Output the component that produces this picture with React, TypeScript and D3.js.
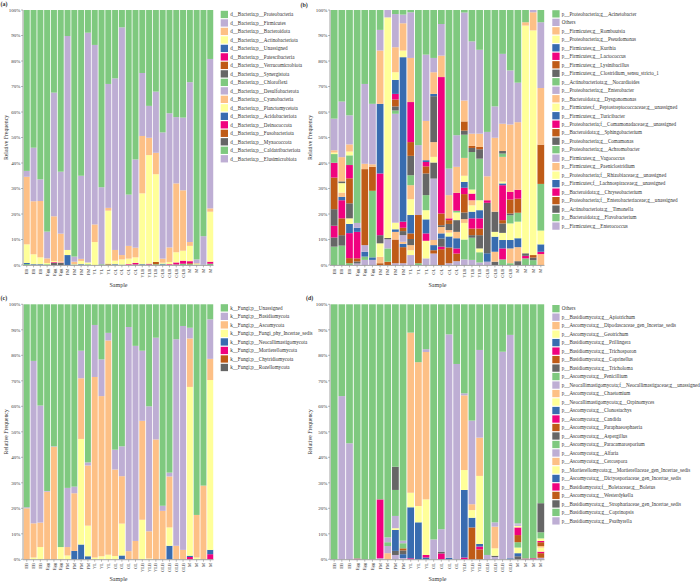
import React from "react";
import * as d3 from "d3";

const samples = ["EB","EB","EB","Egg","Egg","Egg","FM","FM","FM","FM","YL","YL","YL","OL","OL","OL","OL","YLB","YLB","YLB","OLB","OLB","OLB","OLB","M","M","M","M"];

// ---------- Panel (a) : bacterial phyla ----------
const aNames = ["d__Bacteria;p__Proteobacteria","d__Bacteria;p__Firmicutes","d__Bacteria;p__Bacteroidota","d__Bacteria;p__Actinobacteriota","d__Bacteria;p__Unassigned","d__Bacteria;p__Patescibacteria","d__Bacteria;p__Verrucomicrobiota","d__Bacteria;p__Synergistota","d__Bacteria;p__Chloroflexi","d__Bacteria;p__Desulfobacterota","d__Bacteria;p__Cyanobacteria","d__Bacteria;p__Planctomycetota","d__Bacteria;p__Acidobacteriota","d__Bacteria;p__Deinococcota","d__Bacteria;p__Fusobacteriota","d__Bacteria;p__Myxococcota","d__Bacteria;p__Caldatribacteriota","d__Bacteria;p__Elusimicrobiota"];
const aProteobacteria = [63.1,54,66.4,86.9,32.4,63.4,10.2, 96.7,65,8.9,13.7,69.5,29,26.8, 6.8,72.4,58.6,24.7,37.6,32,48, 40.5,42,42.2,28.3,97.8,88.7,19.2];
const aFirmicutes = [2.3,21,8.5,10.5,48.5,24.3,83.9, 2.0,32.6,90.1,70.4,30.2,48.6,67.3, 89.3,20.1,34.6,24.7,12.5,24,49.5, 52.6,26,28.5,62.7,1.5,11.2,58.6];
const aBacteroidota = [26.5,20.8,22.1,1.8,17.5,11.0,0, 1.0,0.8,0,6.9,0,1.1,4.2, 1.7,5.0,3.8,22.5,6.8,8.4,1.6, 5.7,27,23.7,1.5,0.3,0,1.3];
const aActinobacteriota = [7.3,3.9,2.7,0.5,0.5,0.3,2.0, 0.1,1.3,0.7,9.0,0,20.8,1.4, 2.0,2.2,2.2,27.8,42.6,34.4,0.4, 0.9,4,3.9,6,0.2,0,19.6];
const aUnassigned = [0.4,0.3,0.3,0,0,0,3.9, 0,0.3,0,0,0,0,0.3, 0,0,0,0.3,0,0,0.3, 0,0,0,0,0,0,0];
const aPatescibacteria = [0,0,0,0,0.3,0.2,0, 0,0,0,0,0,0,0, 0,0.3,0.6,0,0.3,0,0, 0.3,0.8,1.2,0.8,0,0,0.8];
const aVerrucomicrobiota = [0,0,0,0,0,0,0, 0,0,0,0,0,0.3,0, 0,0,0,0,0,0.9,0, 0,0,0,0.4,0,0,0];
const aSynergistota = [0,0,0,0,0.8,0.8,0, 0,0,0,0,0,0,0, 0,0,0,0,0,0,0, 0,0,0,0,0,0,0];
const aChloroflexi = [0.4,0,0,0.3,0,0,0, 0.2,0,0.3,0,0.3,0.2,0, 0.2,0,0.2,0,0.2,0.3,0.2, 0,0.2,0.5,0.3,0.2,0.1,0.5];
const aDesulfobacterota = [0,0,0,0,0,0,0, 0,0,0,0,0,0,0, 0,0,0,0,0,0,0, 0,0,0,0,0,0,0];
const aCyanobacteria = [0,0,0,0,0,0,0, 0,0,0,0,0,0,0, 0,0,0,0,0,0,0, 0,0,0,0,0,0,0];
const aPlanctomycetota = [0,0,0,0,0,0,0, 0,0,0,0,0,0,0, 0,0,0,0,0,0,0, 0,0,0,0,0,0,0];
const aAcidobacteriota = [0,0,0,0,0,0,0, 0,0,0,0,0,0,0, 0,0,0,0,0,0,0, 0,0,0,0,0,0,0];
const aDeinococcota = [0,0,0,0,0,0,0, 0,0,0,0,0,0,0, 0,0,0,0,0,0,0, 0,0,0,0,0,0,0];
const aFusobacteriota = [0,0,0,0,0,0,0, 0,0,0,0,0,0,0, 0,0,0,0,0,0,0, 0,0,0,0,0,0,0];
const aMyxococcota = [0,0,0,0,0,0,0, 0,0,0,0,0,0,0, 0,0,0,0,0,0,0, 0,0,0,0,0,0,0];
const aCaldatribacteriota = [0,0,0,0,0,0,0, 0,0,0,0,0,0,0, 0,0,0,0,0,0,0, 0,0,0,0,0,0,0];
const aElusimicrobiota = [0,0,0,0,0,0,0, 0,0,0,0,0,0,0, 0,0,0,0,0,0,0, 0,0,0,0,0,0,0];

// ---------- Panel (b) : bacterial genera ----------
const bNames = ["p__Proteobacteria;g__Acinetobacter","Others","p__Firmicutes;g__Romboutsia","p__Proteobacteria;g__Pseudomonas","p__Firmicutes;g__Kurthia","p__Firmicutes;g__Lactococcus","p__Firmicutes;g__Lysinibacillus","p__Firmicutes;g__Clostridium_sensu_stricto_1","p__Actinobacteriota;g__Nocardioides","p__Proteobacteria;g__Enterobacter","p__Bacteroidota;g__Dysgonomonas","p__Firmicutes;f__Peptostreptococcaceae;g__unassigned","p__Firmicutes;g__Turicibacter","p__Proteobacteria;f__Comamonadaceae;g__unassigned","p__Bacteroidota;g__Sphingobacterium","p__Proteobacteria;g__Comamonas","p__Proteobacteria;g__Achromobacter","p__Firmicutes;g__Vagococcus","p__Firmicutes;g__Paeniclostridium","p__Proteobacteria;f__Rhizobiaceae;g__unassigned","p__Firmicutes;f__Lachnospiraceae;g__unassigned","p__Bacteroidota;g__Chryseobacterium","p__Proteobacteria;f__Enterobacteriaceae;g__unassigned","p__Actinobacteriota;g__Timonella","p__Bacteroidota;g__Flavobacterium","p__Firmicutes;g__Enterococcus"];
const bAcinetobacter = [42.6,35.9,41.3,83.5,29,36.8,7.8, 0,1.6,1.8,0.9,53,17.5,18.8, 5.5,62.2,49.1,1,12.3,15.6,47.8, 37.8,17.2,23.7,28.5,4.8,0,4.8];
const bOthers = [12.4,21.8,11.4,1.9,31.3,23.7,8.1, 2.9,13,3.4,17.9,27.4,26,5.6, 12.4,10.4,12.4,34.5,36.2,32.9,17.4, 12.3,27.4,21.2,15.5,0,0.9,25.8];
const bRomboutsia = [0.9,9.5,2.8,0,2.1,1.0,20.9, 0,9.8,10.7,17.3,0,15.4,8.5, 8.4,9.1,10.2,8.2,4.8,5.2,9.4, 29.0,10.7,26.4,26.5,1.3,7.1,22.2];
const bPseudomonas = [0.6,0,1.5,0,0,0,0, 86.5,3.0,2.6,0,0,0,0, 0,0,0,0,0,0,0, 0,0,0,0,89.3,88.1,0];
const bKurthia = [0,0,0,0,0,0,27.3, 0,5.5,64.5,0,0,0.7,0.9, 0,0,0,0,0,0,0, 0,0,0,0,0,0,0];
const bLactococcus = [0,0,0,0,0,0,24.2, 0,2.2,0,15.7,0,1.7,0, 53.5,0.7,7.0,0,0,0,1.0, 0,0,3.0,3.5,0,0,0];
const bLysinibacillus = [0,0,0,0,29.8,0,0, 0,2.7,0,5.4,18.9,2.8,0, 4.6,1.5,0,3.6,0.8,0.9,0, 0,0,5.5,5.5,0,1.0,15.4];
const bClostridium = [0,0.7,0,0,0,0,3.2, 0.5,1.6,0,7.6,0,8.5,18, 0.7,2.4,0,1.6,1.6,3.7,19.8, 7.9,1.0,0.7,0,1.0,1.0,0];
const bNocardioides = [3.4,0,3.8,0,0,0,0, 0,1.3,0,3.9,0,5.9,0, 0,0,0.7,9.1,14.7,16.3,0, 0,1.3,3.2,3.5,0,0,18.3];
const bEnterobacter = [0,0,0,0,0,0,0, 3.6,42.7,0,0,0,0,0, 0,0,0,0,0,0,0, 0,0,0,0,0,0,0];
const bDysgonomonas = [0,0,0,0,0,0,0, 0,0,0,5.5,0,0,5.8, 2.5,1.0,0,7.0,0,0,0, 0,9.7,0,0,0,0,0];
const bPeptostreptococcaceae = [0,3.7,0,0,0,0,5.3, 0,2.6,0,6.2,0,3.6,2.2, 0,1.5,3.0,2.4,1.6,3.9,0, 1.9,0.7,6.5,6.5,0,0,5.4];
const bTuricibacter = [0,0,0,0,0,0,0, 0,1.0,0,7.2,0,5.5,0, 2.0,4.3,0,2.3,0,3.2,3.3, 5.9,0.7,3.3,3.5,0,0,2.9];
const bComamonadaceae = [5.8,0,5.2,0,0,0,0, 0,0,2.4,0,0,2.9,0, 0,0,0,2.5,2.6,4.0,0, 0,13.7,0,0,1.0,0,0.9];
const bSphingobacterium = [12.4,0,9.8,0,0,9.4,0, 0,0,1.3,2.2,0,0,0, 0,0,0,7.2,0,2.6,0, 0,1.3,0,0,0,0,0];
const bComamonas = [6.5,0,5.9,0,0,0,0, 0,0,1.6,2.4,0,0,6.3, 3.2,0,4.6,2.6,0,5.2,0, 0,3.7,0,0,0,0,0];
const bAchromobacter = [0,0,0,0,0,26.1,0, 5.2,0,0,0,0,0,0, 0,0,0,0,0,0,0, 0,0,0,0,0,0,0];
const bVagococcus = [0,0,0,0,2.6,0,0, 0,0,2.6,0,0,0,24.1, 0,0,0,0,0,0,0, 0,0,0,0,0,0,0];
const bPaeniclostridium = [0,1.7,0,0,0,0,2.5, 0,3.0,0.8,2.0,0,0,2.0, 0,0,2.5,1.5,2.0,0,0, 3.9,0,5.8,5.5,0,0,4.3];
const bRhizobiaceae = [0,0,2.2,0,0,0,0, 0,0,0,1.9,0,6.9,0, 0,0,0,6.5,2.5,1.5,0, 0,2.8,0,0,0,0,0];
const bLachnospiraceae = [0,1.3,3.6,1.6,1.9,1.0,0, 0,0,1.3,0,0,0,2.0, 0,0,4.0,0,2.6,0,0, 0,3.3,0,0,0,0,0];
const bChryseobacterium = [4.6,7.1,9.8,10.4,0,0,0, 0,0,0,0,0,0,0, 1.0,0,2.0,0,4.0,0,0, 0,4.3,0,0,0,0,0];
const bEnterobacteriaceae = [0,6.6,2.0,1.2,0,0,0.7, 1.3,9.3,6.3,0,0,0,1.3, 6.2,6.2,3.0,0,2.6,0,0, 0,0,0,0,0,0,0];
const bTimonella = [3.6,4.1,0,0.8,0,0,0, 0,0,0,0,0,0,0, 0,0,0,0,1.0,0,0, 1.3,0,0,1.5,0,0,0];
const bFlavobacterium = [7.2,7.6,0.7,0,1.3,0,0, 0,0,0,0,0.7,0,0, 0,0,0,7.8,8.7,4.0,0, 0,2.2,0.7,0,2.6,1.9,0];
const bEnterococcus = [0,0,0,0.6,2.0,2.0,0, 0,0.7,0.7,3.9,0,2.6,4.5, 0,0.7,1.5,2.2,2.0,1.0,1.3, 0,0,0,0,0,0,0];

// ---------- Panel (c) : fungal phyla ----------
const cNames = ["k__Fungi;p__Unassigned","k__Fungi;p__Basidiomycota","k__Fungi;p__Ascomycota","k__Fungi;p__Fungi_phy_Incertae_sedis","k__Fungi;p__Neocallimastigomycota","k__Fungi;p__Mortierellomycota","k__Fungi;p__Chytridiomycota","k__Fungi;p__Rozellomycota"];
const cUnassigned = [79.6,22.2,39.7,73.2,55.7,95.2,72, 71.5,18.2,62,8.1,21.6,11.2,57, 55.7,8.9,16.3,18.2,40,13.1,79, 66,13.7,8.5,9.2,82.6,71.1,5.9];
const cBasidiomycota = [0.4,63.7,45.9,0.3,0.2,0,23.2, 2.6,10.8,1.2,20.4,14.4,3,7.8, 11.7,87.9,76.5,27.5,49,39.9,2, 1.5,81,87.8,4.2,0,0,15.5];
const cAscomycota = [20.0,13.4,9.6,26.5,44.1,0,3.3, 22.6,23.8,23.6,70.8,62.8,84,33.9, 18.6,3.2,7.2,38.8,10.7,47,19, 20,5.3,3.7,19,16.7,28.9,8.3];
const cIncertaeSedis = [0,0.7,4.8,0,0,4.8,1.5, 0,41.4,12,0.7,1.2,1.8,1.3, 12.5,0,0,15.5,0.3,0,0, 7.2,0,0,66.2,0.7,0,66.6];
const cNeocallimastigomycota = [0,0,0,0,0,0,0, 3.3,5.8,1.2,0,0,0,0, 1.5,0,0,0,0,0,0, 5.3,0,0,0.5,0,0,1.7];
const cMortierellomycota = [0,0,0,0,0,0,0, 0,0,0,0,0,0,0, 0,0,0,0,0,0,0, 0,0,0,0.9,0,0,2.0];
const cChytridiomycota = [0,0,0,0,0,0,0, 0,0,0,0,0,0,0, 0,0,0,0,0,0,0, 0,0,0,0,0,0,0];
const cRozellomycota = [0,0,0,0,0,0,0, 0,0,0,0,0,0,0, 0,0,0,0,0,0,0, 0,0,0,0,0,0,0];

// ---------- Panel (d) : fungal genera ----------
const dNames = ["Others","p__Basidiomycota;g__Apiotrichum","p__Ascomycota;g__Dipodascaceae_gen_Incertae_sedis","p__Ascomycota;g__Geotrichum","p__Basidiomycota;g__Prillingera","p__Basidiomycota;g__Trichosporon","p__Basidiomycota;g__Coprinellus","p__Basidiomycota;g__Tricholoma","p__Ascomycota;g__Penicillium","p__Neocallimastigomycota;f__Neocallimastigaceae;g__unassigned","p__Ascomycota;g__Chaetomium","p__Neocallimastigomycota;g__Orpinomyces","p__Ascomycota;g__Clonostachys","p__Ascomycota;g__Candida","p__Ascomycota;g__Paraphaeosphaeria","p__Ascomycota;g__Aspergillus","p__Ascomycota;g__Paracamarosporium","p__Ascomycota;g__Alfaria","p__Ascomycota;g__Cercospora","p__Mortierellomycota;g__Mortierellaceae_gen_Incertae_sedis","p__Ascomycota;g__Dictyosporiaceae_gen_Incertae_sedis","p__Basidiomycota;f__Boletaceae;g__Boletus","p__Ascomycota;g__Westerdykella","p__Basidiomycota;g__Strophariaceae_gen_Incertae_sedis","p__Basidiomycota;g__Coprinopsis","p__Basidiomycota;g__Psathyrella"];
const dOthers = [100,36,54.5,99.7,100,100,76.5, 91.4,63.7,92.7,11.1,22.7,17.6,92.2, 88.2,11.8,23.4,34.9,45.6,17.9,98.3, 85.5,18.6,12,85.9,99.7,99.6,78];
const dApiotrichum = [0,64,45.5,0,0,0,0, 1.9,0,1.0,0,0,1.1,7.8, 8.8,87.6,76.6,0.8,32.8,34.4,1.7, 1.7,81.4,87.6,0.5,0,0,0];
const dDipodascaceae = [0,0,0,0,0,0,0, 0,0,0,62.8,56.4,57.8,0, 0,0,0,29.3,2.3,15,0, 8.5,0,0,0,0,0,0];
const dGeotrichum = [0,0,0,0,0,0,0, 0,0,0,5.7,6.4,21.8,0, 0,0,0,7.8,3.0,26.7,0, 2.9,0,0,0,0,0,0];
const dPrillingera = [0,0,0,0,0,0,0, 0,0,0,20.0,14.5,0,0, 0,0.6,0,26.5,3.8,1.0,0, 0,0,0.4,0,0,0,0];
const dTrichosporon = [0,0,0,0,0,0,23.1, 0,0,0,0,0,1.0,0, 0,0,0,0,0,1.1,0, 0,0,0,0,0,0,0];
const dCoprinellus = [0,0,0,0,0,0,0, 0,0,0,0,0,0,0, 0,0,0,0,12.5,3.9,0, 0,0,0,0,0,0,0];
const dTricholoma = [0,0,0,0,0,0,0, 0,9.1,0,0,0,0,0, 0,0,0,0,0,0,0, 0,0,0,0,0,0,11.4];
const dPenicillium = [0,0,0,0,0,0,0, 1.5,10.2,2.0,0,0,0,0, 0,0,0,0,0,0,0, 0,0,0,0,0,0,2.4];
const dNeocallimastigaceae = [0,0,0,0,0,0,0, 2.8,4.8,0,0,0,0,0, 0,0,0,0,0,0,0, 0,0,0,0.5,0,0,0];
const dChaetomium = [0,0,0,0,0,0,0, 0,0,0,0,0,0,0, 0,0,0,0,0,0,0, 0,0,0,0,0,0,0];
const dOrpinomyces = [0,0,0,0,0,0,0, 0,0.7,0,0,0,0,0, 0,0,0,0,0,0,0, 0,0,0,0.6,0,0,1.0];
const dClonostachys = [0,0,0,0,0,0,0, 0,8.2,0,0,0,0,0, 0,0,0,0,0,0,0, 0,0,0,0,0,0,0];
const dCandida = [0,0,0,0,0,0,0, 0,0,0,0,0,0,0, 0,0,0,0,0,0,0, 0,0,0,3.0,0.3,0,0.5];
const dParaphaeosphaeria = [0,0,0,0,0,0,0, 0,0,0.8,0,0,0,0, 0,0,0,0,0,0,0, 0,0,0,2.8,0,0,1.5];
const dAspergillus = [0,0,0,0,0,0,0, 0,0,1.5,0,0,0,0, 0.7,0,0,0,0,0,0, 0,0,0,0,0,0,0];
const dParacamarosporium = [0,0,0,0,0,0,0, 0,0,0,0,0,0,0, 0,0,0,0,0,0,0, 0,0,0,2.1,0,0,0];
const dAlfaria = [0,0,0,0,0,0,0, 0,0,0,0,0,0,0, 0,0,0,0,0,0,0, 0,0,0,0,0,0,0];
const dCercospora = [0,0,0,0,0,0,0, 2.4,0,0,0,0,0,0, 0,0,0,0,0,0,0, 0,0,0,0,0,0,0.6];
const dMortierellaceae = [0,0,0,0,0,0,0, 0,0,0,0,0,0,0, 0,0,0,0,0,0,0, 0,0,0,2.2,0,0,1.6];
const dDictyosporiaceae = [0,0,0,0,0,0,0, 0,0,1.5,0,0,0.7,0, 0,0,0,0,0,0,0, 0,0,0,1.2,0,0,0];
const dBoletus = [0,0,0,0.3,0,0,0, 0,0,0,0.4,0,0,0, 2.3,0,0,0.7,0,0,0, 0,0,0,0,0,0.4,0.6];
const dWesterdykella = [0,0,0,0,0,0,0, 0,0,0,0,0,0,0, 0,0,0,0,0,0,0, 0,0,0,0,0,0,1.8];
const dStrophariaceae = [0,0,0,0,0,0,0, 0,1.6,0,0,0,0,0, 0,0,0,0,0,0,0, 0.5,0,0,1.2,0,0,0];
const dCoprinopsis = [0,0,0,0,0,0,0, 0,0,0,0,0,0,0, 0,0,0,0,0,0,0, 0,0,0,0,0,0,0];
const dPsathyrella = [0,0,0,0,0,0,0.4, 0,1.7,0.5,0,0,0,0, 0,0,0,0,0,0,0, 0.9,0,0,0,0,0,0.6];

const aSeries = [aProteobacteria,aFirmicutes,aBacteroidota,aActinobacteriota,aUnassigned,aPatescibacteria,aVerrucomicrobiota,aSynergistota,aChloroflexi,aDesulfobacterota,aCyanobacteria,aPlanctomycetota,aAcidobacteriota,aDeinococcota,aFusobacteriota,aMyxococcota,aCaldatribacteriota,aElusimicrobiota];
const bSeries = [bAcinetobacter,bOthers,bRomboutsia,bPseudomonas,bKurthia,bLactococcus,bLysinibacillus,bClostridium,bNocardioides,bEnterobacter,bDysgonomonas,bPeptostreptococcaceae,bTuricibacter,bComamonadaceae,bSphingobacterium,bComamonas,bAchromobacter,bVagococcus,bPaeniclostridium,bRhizobiaceae,bLachnospiraceae,bChryseobacterium,bEnterobacteriaceae,bTimonella,bFlavobacterium,bEnterococcus];
const cSeries = [cUnassigned,cBasidiomycota,cAscomycota,cIncertaeSedis,cNeocallimastigomycota,cMortierellomycota,cChytridiomycota,cRozellomycota];
const dSeries = [dOthers,dApiotrichum,dDipodascaceae,dGeotrichum,dPrillingera,dTrichosporon,dCoprinellus,dTricholoma,dPenicillium,dNeocallimastigaceae,dChaetomium,dOrpinomyces,dClonostachys,dCandida,dParaphaeosphaeria,dAspergillus,dParacamarosporium,dAlfaria,dCercospora,dMortierellaceae,dDictyosporiaceae,dBoletus,dWesterdykella,dStrophariaceae,dCoprinopsis,dPsathyrella];

const FONT = "'Liberation Serif', 'Times New Roman', serif";
const TEXT = "#333";
const AXIS = "#8a8a8a";

type PanelProps = {
  names: string[]; series: number[][];
  x0: number; x1: number; yTop: number; yBot: number;
  legendX: number; legendY: number; step: number;
  tag: string; tagX: number; tagY: number; ylabX: number;
};

function Panel(p: PanelProps) {
  const { names, series, x0, x1, yTop, yBot } = p;
  const table = samples.map((_, j) => {
    const row: Record<string, number> = {};
    names.forEach((nm, i) => { row[nm] = series[i][j]; });
    return row;
  });
  const keys = names.slice().reverse();
  const stacked = d3.stack<Record<string, number>>().keys(keys).offset(d3.stackOffsetExpand)(table);
  const x = d3.scaleBand<number>().domain(d3.range(samples.length)).range([x0, x1]).paddingInner(0.12).paddingOuter(0.04);
  const y = d3.scaleLinear().domain([0, 1]).range([yBot, yTop]);
  const color = (nm: string) => d3.schemeAccent[names.indexOf(nm) % 8];
  const bw = x.bandwidth();
  const sq = 7.3;
  return (
    <g>
      {stacked.map((layer) => (
        <g key={layer.key} fill={color(layer.key)}>
          {layer.map((d, j) => {
            const h = y(d[0]) - y(d[1]);
            if (!(h > 0)) return null;
            return <rect key={j} x={x(j)} y={y(d[1])} width={bw} height={h} />;
          })}
        </g>
      ))}
      {/* y axis */}
      <line x1={x0 - 0.5} x2={x0 - 0.5} y1={yTop} y2={yBot} stroke={AXIS} strokeWidth={0.8} />
      {y.ticks(10).map((t) => (
        <g key={t}>
          <line x1={x0 - 2.5} x2={x0 - 0.5} y1={y(t)} y2={y(t)} stroke={AXIS} strokeWidth={0.6} />
          <text x={x0 - 3.2} y={y(t) + 1.7} fontSize={5} textAnchor="end" fill={TEXT} fontFamily={FONT}>{`${Math.round(t * 100)}%`}</text>
        </g>
      ))}
      {/* x axis */}
      <line x1={x0 - 0.5} x2={x1} y1={yBot + 0.4} y2={yBot + 0.4} stroke={AXIS} strokeWidth={0.8} />
      {samples.map((s, j) => {
        const cx = (x(j) as number) + bw / 2;
        return (
          <g key={j}>
            <line x1={cx} x2={cx} y1={yBot + 0.4} y2={yBot + 2.4} stroke={AXIS} strokeWidth={0.6} />
            <text transform={`translate(${cx + 1.6},${yBot + 3.6}) rotate(-90)`} fontSize={4.6} textAnchor="end" fill={TEXT} fontFamily={FONT}>{s}</text>
          </g>
        );
      })}
      <text x={(x0 + x1) / 2} y={yBot + 22} fontSize={6} textAnchor="middle" fill={TEXT} fontFamily={FONT}>Sample</text>
      <text transform={`translate(${p.ylabX},${(yTop + yBot) / 2}) rotate(-90)`} fontSize={5.8} textAnchor="middle" fill={TEXT} fontFamily={FONT}>Relative Frequency</text>
      <text x={p.tagX} y={p.tagY} fontSize={6} fontWeight="bold" fill={TEXT} fontFamily={FONT}>{p.tag}</text>
      {/* legend */}
      {names.map((nm, i) => (
        <g key={nm} transform={`translate(${p.legendX},${p.legendY + i * p.step})`}>
          <rect width={sq} height={sq} fill={color(nm)} />
          <text x={sq + 2.2} y={sq / 2 + 1.8} fontSize={5.1} fill={TEXT} fontFamily={FONT}>{nm}</text>
        </g>
      ))}
    </g>
  );
}

export default function App() {
  return (
    <svg width={700} height={584} style={{ position: "absolute", left: 0, top: 0, background: "#fff" }}>
      <rect width={700} height={584} fill="#fff" />
      <Panel names={aNames} series={aSeries} x0={23.5} x1={213.5} yTop={10} yBot={265} legendX={220.7} legendY={10.8} step={8.49} tag="(a)" tagX={0.5} tagY={6} ylabX={8} />
      <Panel names={bNames} series={bSeries} x0={330.5} x1={544.5} yTop={10} yBot={265} legendX={552.3} legendY={10.2} step={8.49} tag="(b)" tagX={300.5} tagY={6.5} ylabX={312} />
      <Panel names={cNames} series={cSeries} x0={23.5} x1={213.5} yTop={304.3} yBot={559.3} legendX={220.7} legendY={304.2} step={8.52} tag="(c)" tagX={0.5} tagY={299.5} ylabX={8} />
      <Panel names={dNames} series={dSeries} x0={330.5} x1={544.5} yTop={304.3} yBot={559.3} legendX={552.3} legendY={305} step={8.49} tag="(d)" tagX={306} tagY={300} ylabX={312} />
    </svg>
  );
}
